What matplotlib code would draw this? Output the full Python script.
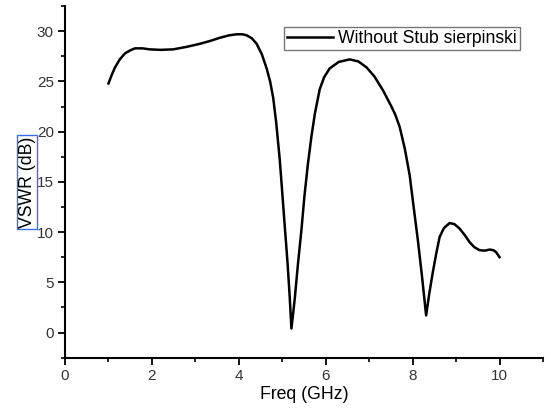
import matplotlib
matplotlib.use("Agg")
import matplotlib.pyplot as plt
from matplotlib.ticker import MultipleLocator

plt.rcParams['font.family'] = ['Liberation Sans', 'DejaVu Sans']

freq = [1.0, 1.07, 1.15, 1.26, 1.38, 1.5, 1.61, 1.78, 1.95, 2.2, 2.49, 2.8, 3.1, 3.35, 3.56,
        3.78, 3.95, 4.08, 4.18, 4.3, 4.41, 4.53, 4.64, 4.72, 4.79, 4.86, 4.94, 5.0, 5.06, 5.12,
        5.17, 5.21, 5.25, 5.29, 5.36, 5.44, 5.51, 5.59, 5.67, 5.75, 5.86, 5.96, 6.09, 6.3, 6.55,
        6.75, 6.94, 7.12, 7.32, 7.5, 7.6, 7.70, 7.82, 7.93, 8.02, 8.12, 8.22, 8.31, 8.38, 8.46, 8.54,
        8.62, 8.72, 8.85, 8.96, 9.08, 9.2, 9.31, 9.42, 9.54, 9.66, 9.77, 9.86, 9.92, 10.0]
vswr = [24.8, 25.6, 26.4, 27.2, 27.8, 28.1, 28.3, 28.3, 28.2, 28.15, 28.2, 28.45, 28.75, 29.05, 29.35,
        29.6, 29.7, 29.7, 29.6, 29.3, 28.75, 27.7, 26.3, 25.0, 23.4, 20.9, 17.3, 13.9, 10.4, 7.0,
        3.6, 0.4, 1.9, 3.5, 6.8, 10.2, 13.6, 16.8, 19.5, 21.8, 24.2, 25.4, 26.3, 26.95, 27.2,
        27.0, 26.4, 25.5, 24.1, 22.6, 21.7, 20.5, 18.3, 15.7, 12.6, 9.2, 5.4, 1.7, 3.8, 5.9, 7.8,
        9.5, 10.4, 10.9, 10.8, 10.35, 9.7, 9.0, 8.5, 8.2, 8.15, 8.26, 8.2, 8.0, 7.5]

legend_label = "Without Stub sierpinski"

fig = plt.figure(figsize=(5.51, 4.12), dpi=100)
ax = fig.add_axes([0.118, 0.132, 0.8675, 0.853])
ax.plot(freq, vswr, color='black', lw=1.8, label=legend_label)

ax.set_xlim(0, 11)
ax.set_ylim(-2.5, 32.5)
ax.xaxis.set_major_locator(MultipleLocator(2))
ax.xaxis.set_minor_locator(MultipleLocator(1))
ax.yaxis.set_major_locator(MultipleLocator(5))
ax.yaxis.set_minor_locator(MultipleLocator(2.5))
ax.spines['top'].set_visible(False)
ax.spines['right'].set_visible(False)
for s in ['left', 'bottom']:
    ax.spines[s].set_linewidth(1.5)
ax.tick_params(which='major', direction='out', length=5, width=1.3, labelsize=11,
               labelcolor='#333333', pad=3)
ax.tick_params(which='minor', direction='out', length=3, width=1.2)

ax.set_xlabel("Freq (GHz)", fontsize=12.7, labelpad=2)
ax.set_ylabel("VSWR (dB)", fontsize=12.7, labelpad=1,
              bbox=dict(facecolor='none', edgecolor='#3a6df0', linewidth=1, pad=1))

leg = ax.legend(loc='upper right', bbox_to_anchor=(0.951, 0.94), fontsize=12.7, frameon=True,
                fancybox=False, edgecolor='#555555', handlelength=2.6, handletextpad=0.3,
                borderpad=0.15, borderaxespad=0)
leg.get_frame().set_linewidth(1.0)

fig.savefig("out.png", dpi=100)
